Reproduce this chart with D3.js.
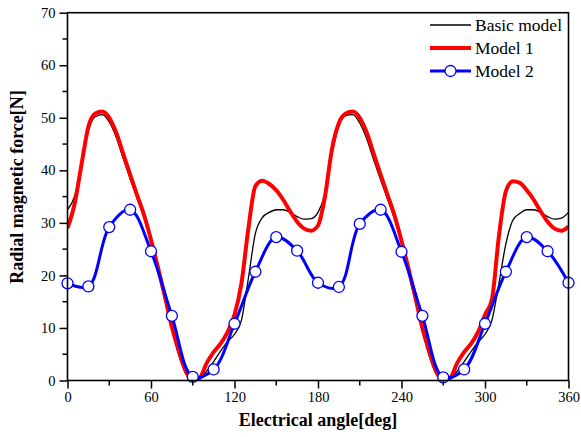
<!DOCTYPE html>
<html>
<head>
<meta charset="utf-8">
<script src="https://cdn.jsdelivr.net/npm/d3@7"></script>
<style>
  body { margin: 0; background: #fff; }
  svg text { font-family: "Liberation Serif", "Times New Roman", serif; fill: #000; }
</style>
</head>
<body>
<div id="chart"></div>
<script>
"use strict";
// angles (deg) for the two continuous curves, every 5 degrees
var angles = d3.range(0, 361, 5);
// basic model
var basicModel = [32.5, 35.0, 41.0, 47.5, 50.2, 50.6, 49.2, 46.3, 42.3, 38.4, 34.7, 30.9,
  26.4, 21.0, 15.3, 9.8, 4.8, 1.3, 0.0, 0.3, 1.8, 3.6, 5.6, 7.4,
  8.8, 11.5, 19.5, 28.0, 31.0, 32.0, 32.5, 32.5, 32.0, 31.2, 30.7, 30.8,
  32.0, 35.5, 43.0, 48.5, 50.4, 50.6, 49.0, 46.0, 42.0, 38.2, 34.5, 30.7,
  26.2, 20.8, 15.0, 9.5, 4.6, 1.2, 0.0, 0.3, 1.8, 3.6, 5.5, 7.3,
  8.8, 11.5, 18.5, 26.0, 30.5, 31.8, 32.5, 32.5, 32.0, 31.2, 30.7, 30.9, 32.0];
// model 1
var model1 = [29.0, 33.5, 41.0, 48.3, 50.8, 51.2, 50.0, 47.2, 43.2, 39.2, 35.3, 31.5,
  26.8, 21.5, 16.0, 10.2, 5.6, 1.8, 0.0, 0.5, 3.3, 5.4, 7.0, 9.2,
  12.5, 18.5, 29.0, 37.0, 38.0, 37.4, 36.2, 34.4, 32.2, 30.2, 28.9, 28.5,
  29.5, 35.0, 44.0, 49.0, 50.8, 51.2, 50.0, 47.2, 43.2, 39.2, 35.3, 31.4,
  26.6, 21.3, 15.8, 10.0, 5.5, 1.7, 0.0, 0.5, 3.3, 5.4, 7.0, 9.2,
  12.5, 15.5, 27.5, 36.0, 37.9, 37.6, 36.2, 34.4, 32.2, 30.2, 28.9, 28.5, 29.3];
// model 2, markers every 15 degrees
var angles2 = d3.range(0, 361, 15);
var model2 = [18.5, 17.9, 29.2, 32.5, 24.6, 12.3, 0.7, 2.1, 10.8, 20.7, 27.3, 24.7,
  18.6, 17.8, 29.8, 32.5, 24.5, 12.3, 0.6, 2.1, 10.8, 20.7, 27.3, 24.6, 18.6];

var xTicks = [0, 60, 120, 180, 240, 300, 360];
var yTicks = [0, 10, 20, 30, 40, 50, 60, 70];
var legendNames = ["Basic model", "Model 1", "Model 2"];

var W = 581, H = 437;
var margin = {left: 67.5, top: 12.7, right: 12.5, bottom: 56.5};
var serif = "'Liberation Serif', 'Times New Roman', serif";

var svg = d3.select("#chart").append("svg").attr("width", W).attr("height", H);

var x = d3.scaleLinear().domain([0, 360]).range([margin.left, W - margin.right]);
var y = d3.scaleLinear().domain([0, 70]).range([H - margin.bottom, margin.top]);

svg.append("clipPath").attr("id", "plotclip")
  .append("rect")
  .attr("x", x(0)).attr("y", y(70))
  .attr("width", x(360) - x(0)).attr("height", y(0) - y(70));

// lines
var plot = svg.append("g").attr("clip-path", "url(#plotclip)");

var basicLine = d3.line().x(function (d, i) { return x(angles[i]); })
  .y(function (d) { return y(d); }).curve(d3.curveMonotoneX);
var m2Line = d3.line().x(function (d, i) { return x(angles2[i]); })
  .y(function (d) { return y(d); }).curve(d3.curveCatmullRom.alpha(0.5));

plot.append("path").datum(basicModel).attr("d", basicLine)
  .attr("fill", "none").attr("stroke", "#000").attr("stroke-width", 1.3);
plot.append("path").datum(model1).attr("d", basicLine)
  .attr("fill", "none").attr("stroke", "#ff0000").attr("stroke-width", 4);
plot.append("path").datum(model2).attr("d", m2Line)
  .attr("fill", "none").attr("stroke", "#0000ff").attr("stroke-width", 3);

svg.selectAll(".m2dot").data(model2).enter().append("circle")
  .attr("class", "m2dot")
  .attr("cx", function (d, i) { return x(angles2[i]); })
  .attr("cy", function (d) { return y(d); })
  .attr("r", 5.5)
  .attr("fill", "#fff").attr("stroke", "#0000ff").attr("stroke-width", 1.3);

// frame
svg.append("rect")
  .attr("x", x(0)).attr("y", y(70))
  .attr("width", x(360) - x(0)).attr("height", y(0) - y(70))
  .attr("fill", "none").attr("stroke", "#000").attr("stroke-width", 1.6);

// x axis
var xAxis = svg.append("g").attr("transform", "translate(0," + y(0) + ")")
  .call(d3.axisBottom(x).tickValues(xTicks).tickSize(8).tickPadding(3).tickFormat(d3.format("d")));
xAxis.append("g").selectAll("line").data(d3.range(30, 360, 60)).enter().append("line")
  .attr("x1", function (d) { return x(d); }).attr("x2", function (d) { return x(d); })
  .attr("y1", 0).attr("y2", 5).attr("stroke", "#000").attr("stroke-width", 1.5);

// y axis
var yAxis = svg.append("g").attr("transform", "translate(" + x(0) + ",0)")
  .call(d3.axisLeft(y).tickValues(yTicks).tickSize(8).tickPadding(4));
yAxis.append("g").selectAll("line").data(d3.range(5, 70, 10)).enter().append("line")
  .attr("y1", function (d) { return y(d); }).attr("y2", function (d) { return y(d); })
  .attr("x1", 0).attr("x2", -5).attr("stroke", "#000").attr("stroke-width", 1.5);

[xAxis, yAxis].forEach(function (a) {
  a.attr("font-family", serif).attr("font-size", 14.5);
  a.select(".domain").remove();
  a.selectAll(".tick line").attr("stroke-width", 1.5);
  a.selectAll(".tick text").style("font-family", serif)
    .style("font-size", "14.5px").attr("fill", "#000");
});

// axis titles
svg.append("text")
  .attr("x", (x(0) + x(360)) / 2).attr("y", 426)
  .attr("text-anchor", "middle")
  .style("font-family", serif)
  .style("font-size", "18px").style("font-weight", "bold")
  .text("Electrical angle[deg]");

svg.append("text")
  .attr("transform", "translate(23,187) rotate(-90)")
  .attr("text-anchor", "middle")
  .style("font-family", serif)
  .style("font-size", "18px").style("font-weight", "bold")
  .text("Radial magnetic force[N]");

// legend
var legendColors = ["#000", "#ff0000", "#0000ff"];
var legendWidths = [1.3, 4, 3];
var lg = svg.append("g");
legendNames.forEach(function (name, i) {
  var ly = 25 + i * 23;
  lg.append("line").attr("x1", 430).attr("x2", 471).attr("y1", ly).attr("y2", ly)
    .attr("stroke", legendColors[i]).attr("stroke-width", legendWidths[i]);
  if (i === 2) {
    lg.append("circle").attr("cx", 450.5).attr("cy", ly).attr("r", 5.5)
      .attr("fill", "#fff").attr("stroke", "#0000ff").attr("stroke-width", 1.3);
  }
  lg.append("text").attr("x", 475).attr("y", ly).attr("dy", "0.33em")
    .style("font-family", serif)
    .style("font-size", "17.5px").text(name);
});
</script>
</body>
</html>
